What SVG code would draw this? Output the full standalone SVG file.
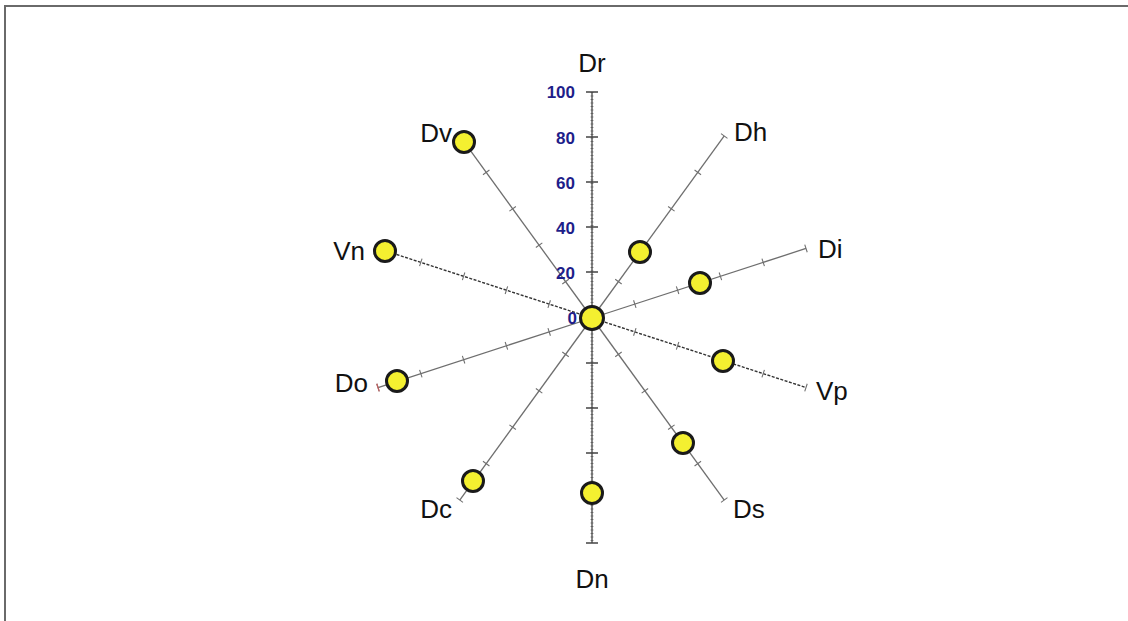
<svg xmlns="http://www.w3.org/2000/svg" width="1128" height="621" viewBox="0 0 1128 621">
<style>
.frame{stroke:#6a6a6a;stroke-width:2;fill:none}
.ax{stroke:#6e6e6e;stroke-width:1.3;fill:none}
.axd{stroke:#333;stroke-width:1.4;stroke-dasharray:3 1.5;fill:none}
.tk{stroke:#707070;stroke-width:1.1;fill:none}
.vt{stroke:#444;stroke-width:1.3;fill:none}
.hatch{stroke:#999;stroke-width:3;stroke-dasharray:1 2.5;fill:none}
.dot{fill:#f4f030;stroke:#1a1a1a;stroke-width:3}
.lbl{font-family:"Liberation Sans",Arial,sans-serif;font-size:26px;fill:#111}
.num{font-family:"Liberation Sans",Arial,sans-serif;font-size:17px;font-weight:bold;fill:#1e1e8a;text-anchor:end}
</style>
<defs>
<g id="ticks">
<path class="tk" d="M45,-4V4M90,-4V4M135,-4V4M180,-4V4M225,-4V4"/>
</g>
</defs>
<rect width="1128" height="621" fill="#fff"/>
<path class="frame" d="M5,621V6H1128"/>
<g id="connectors">
<g id="axis-Dr-Dn">
<path class="hatch" d="M592,92V543"/>
<path class="vt" d="M592,92V543"/>
<path class="vt" d="M586,92h12M586,137h12M586,182h12M586,227h12M586,272h12M586,363h12M586,408h12M586,453h12M586,498h12M586,543h12"/>
</g>
<g id="axis-Dh" transform="translate(592,318) rotate(-54)"><path class="ax" d="M0,0H225"/><use href="#ticks"/></g>
<g id="axis-Di" transform="translate(592,318) rotate(-18)"><path class="ax" d="M0,0H225"/><use href="#ticks"/></g>
<g id="axis-Vp" transform="translate(592,318) rotate(18)"><path class="axd" d="M0,0H225"/><use href="#ticks"/></g>
<g id="axis-Ds" transform="translate(592,318) rotate(54)"><path class="ax" d="M0,0H225"/><use href="#ticks"/></g>
<g id="axis-Dc" transform="translate(592,318) rotate(126)"><path class="ax" d="M0,0H225"/><use href="#ticks"/></g>
<g id="axis-Do" transform="translate(592,318) rotate(162)"><path class="ax" d="M0,0H225"/><use href="#ticks"/><path d="M225,-4V4" stroke="#c06060" stroke-width="1.3"/></g>
<g id="axis-Vn" transform="translate(592,318) rotate(198)"><path class="axd" d="M0,0H225"/><use href="#ticks"/></g>
<g id="axis-Dv" transform="translate(592,318) rotate(-126)"><path class="ax" d="M0,0H225"/><use href="#ticks"/></g>
</g>
<g id="scale">
<text class="num" x="575" y="98">100</text>
<text class="num" x="575" y="144">80</text>
<text class="num" x="575" y="189">60</text>
<text class="num" x="575" y="234">40</text>
<text class="num" x="575" y="279">20</text>
<text class="num" x="577" y="324">0</text>
</g>
<g id="node-Dr"><text class="lbl" x="592" y="72" text-anchor="middle">Dr</text></g>
<g id="node-Dh"><circle class="dot" cx="640" cy="252" r="10.5"/><text class="lbl" x="734" y="141">Dh</text></g>
<g id="node-Di"><circle class="dot" cx="700" cy="283" r="10.5"/><text class="lbl" x="818" y="258">Di</text></g>
<g id="node-Vp"><circle class="dot" cx="723" cy="361" r="10.5"/><text class="lbl" x="816" y="400">Vp</text></g>
<g id="node-Ds"><circle class="dot" cx="683" cy="443" r="10.5"/><text class="lbl" x="733" y="518">Ds</text></g>
<g id="node-Dn"><circle class="dot" cx="592" cy="493" r="10.5"/><text class="lbl" x="592" y="588" text-anchor="middle">Dn</text></g>
<g id="node-Dc"><circle class="dot" cx="473" cy="481" r="10.5"/><text class="lbl" x="452" y="518" text-anchor="end">Dc</text></g>
<g id="node-Do"><circle class="dot" cx="397" cy="381" r="10.5"/><text class="lbl" x="368" y="392" text-anchor="end">Do</text></g>
<g id="node-Vn"><circle class="dot" cx="385" cy="251" r="10.5"/><text class="lbl" x="365" y="260" text-anchor="end">Vn</text></g>
<g id="node-Dv"><circle class="dot" cx="464" cy="142" r="10.5"/><text class="lbl" x="452" y="142" text-anchor="end">Dv</text></g>
<g id="node-center"><circle class="dot" cx="592" cy="318" r="11.5"/></g>
</svg>
